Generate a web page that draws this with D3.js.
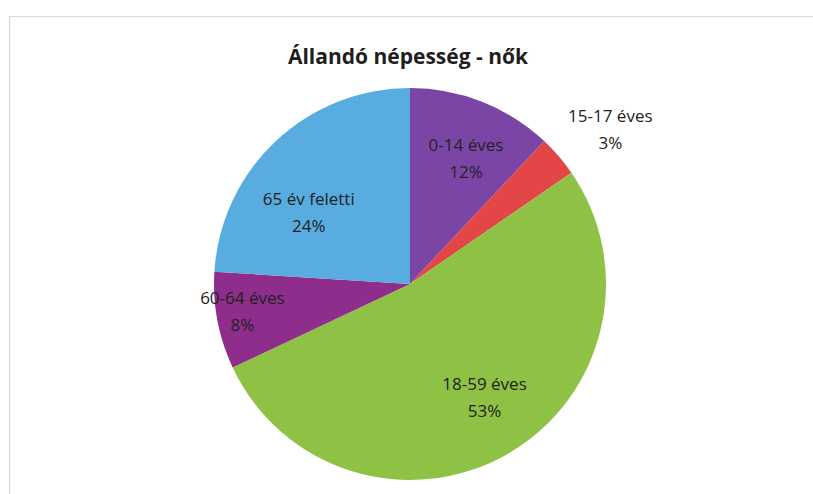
<!DOCTYPE html>
<html>
<head>
<meta charset="utf-8">
<script src="https://cdn.jsdelivr.net/npm/d3@7"></script>
<style>
  body { margin: 0; background: #fff; }
  svg { display: block; font-family: "Open Sans", "Noto Sans", sans-serif; }
  .title { font-size: 21px; font-weight: bold; fill: #1e1e1e; }
  .label { font-size: 17px; fill: #222; }
</style>
</head>
<body>
<div id="chart"></div>
<script>
const title = "Állandó népesség - nők";
const categories = ["0-14 éves", "15-17 éves", "18-59 éves", "60-64 éves", "65 év feletti"];
const values = [12, 3.4, 52.6, 8, 24];
const percentLabels = ["12%", "3%", "53%", "8%", "24%"];
const colors = ["#7b45a6", "#e24646", "#8fc244", "#8e2d8b", "#58acdf"];

const width = 813;
const height = 494;
const cx = 410, cy = 284, radius = 196;

const svg = d3.select("#chart")
    .append("svg")
    .attr("width", width)
    .attr("height", height);

// faint frame of the original chart area
svg.append("path")
    .attr("d", `M9.5,${height} V16.5 H${width}`)
    .attr("fill", "none")
    .attr("stroke", "#d3dae1")
    .attr("stroke-width", 1.2);

svg.append("text")
    .attr("class", "title")
    .attr("x", 408)
    .attr("y", 64)
    .attr("text-anchor", "middle")
    .text(title);

const data = categories.map((c, i) => ({ name: c, value: values[i], pct: percentLabels[i], color: colors[i] }));

const pie = d3.pie().sort(null).value(d => d.value);
const arc = d3.arc().innerRadius(0).outerRadius(radius);
const arcs = pie(data);

const g = svg.append("g").attr("transform", `translate(${cx},${cy})`);

g.selectAll("path")
    .data(arcs)
    .enter()
    .append("path")
    .attr("d", arc)
    .attr("fill", d => d.data.color);

// label positions: inside for most, outside for the thin slice
const labelRadius = [0.72, 1.24, 0.63, 0.85, 0.68];
const labelShift = [[4, 2], [16, 0], [13, 3], [-4, -7], [-10, 22]];
const labelArc = i => d3.arc().innerRadius(radius * labelRadius[i]).outerRadius(radius * labelRadius[i]);

const labels = g.selectAll(".lbl")
    .data(arcs)
    .enter()
    .append("text")
    .attr("class", "label")
    .attr("text-anchor", "middle")
    .attr("transform", (d, i) => {
        const [x, y] = labelArc(i).centroid(d);
        return `translate(${x + labelShift[i][0]},${y + labelShift[i][1]})`;
    });

labels.append("tspan")
    .attr("x", 0)
    .attr("y", -4)
    .text(d => d.data.name);

labels.append("tspan")
    .attr("x", 0)
    .attr("y", 23)
    .text(d => d.data.pct);
</script>
</body>
</html>
